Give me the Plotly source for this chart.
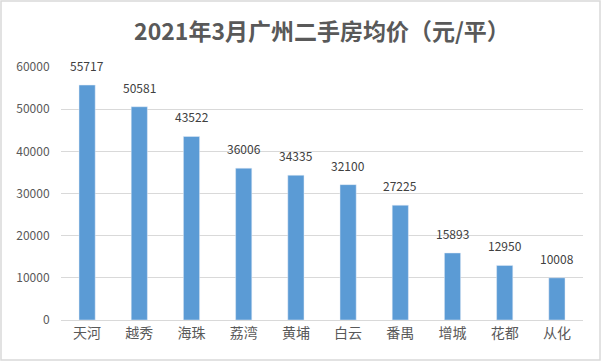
import plotly.graph_objects as go

categories = ["天河", "越秀", "海珠", "荔湾", "黄埔", "白云", "番禺", "增城", "花都", "从化"]
values = [55717, 50581, 43522, 36006, 34335, 32100, 27225, 15893, 12950, 10008]
tick_vals = [0, 10000, 20000, 30000, 40000, 50000, 60000]

W, H = 602, 362
ml, mr, mt, mb = 61, 19, 67, 42
pw, ph = W - ml - mr, H - mt - mb

fig = go.Figure()
fig.add_trace(go.Bar(
    x=categories, y=values, marker_color="#5B9BD5",
    cliponaxis=False,
))

for c, v in zip(categories, values):
    fig.add_annotation(x=c, y=v, text=str(v), showarrow=False,
                       yanchor="bottom", yshift=9,
                       font=dict(size=12, color="#404040", family="Noto Sans CJK SC"))

def px2x(p):
    return (p - ml) / pw

def px2y(p):
    return (H - mb - p) / ph

fig.add_shape(type="rect", xref="paper", yref="paper",
              x0=px2x(1), x1=px2x(600), y0=px2y(360), y1=px2y(1),
              line=dict(color="#D9D9D9", width=1.5))

fig.update_layout(
    width=W, height=H,
    margin=dict(l=ml, r=mr, t=mt, b=mb),
    paper_bgcolor="white", plot_bgcolor="white",
    bargap=0.69,
    showlegend=False,
    title=dict(text="<b>2021年3月广州二手房均价（元/平）</b>", x=0.5, xanchor="center",
               xref="paper",
               y=1 - 32 / H, yanchor="middle",
               font=dict(size=23, color="#595959", family="Noto Sans CJK SC")),
    xaxis=dict(showline=True, linecolor="#D9D9D9", linewidth=1, ticks="",
               tickfont=dict(size=14, color="#595959", family="Noto Sans CJK SC")),
    yaxis=dict(range=[0, 60000], tickvals=tick_vals, ticktext=[str(t) for t in tick_vals],
               showgrid=True, gridcolor="#D9D9D9", gridwidth=1, zeroline=False,
               ticks="outside", ticklen=8, tickcolor="white",
               tickfont=dict(size=12, color="#595959", family="Noto Sans CJK SC")),
)

fig.write_html("out.html")
